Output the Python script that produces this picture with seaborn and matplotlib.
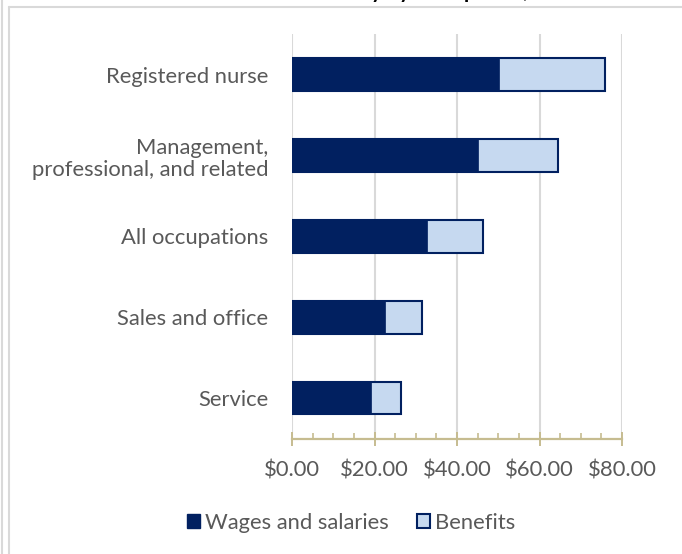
import matplotlib
matplotlib.use("Agg")
import matplotlib.pyplot as plt
import seaborn as sns
import pandas as pd
from matplotlib.patches import Patch
from matplotlib.lines import Line2D
from matplotlib.ticker import MultipleLocator, FuncFormatter

categories = ["Registered nurse", "Management,\nprofessional, and related",
              "All occupations", "Sales and office", "Service"]
wages = [50.2, 45.1, 32.7, 22.5, 19.1]
benefits = [25.7, 19.4, 13.6, 8.9, 7.3]
series_names = ["Wages and salaries", "Benefits"]

NAVY = "#012060"
LIGHT = "#C6D9F0"
GRID = "#D9D9D9"
AXIS = "#C6BC90"
TXT = "#595959"
FS = 15.8

sns.set_theme(style="white")
plt.rcParams["font.family"] = ["Lato", "DejaVu Sans"]

df = pd.DataFrame({"category": categories, "wages": wages, "benefits": benefits})
df["total"] = df["wages"] + df["benefits"]

fig = plt.figure(figsize=(6.82, 5.54), dpi=100)
ax = fig.add_axes([292 / 682, 1 - 438.7 / 554, 330 / 682, (438.7 - 34.2) / 554])

sns.barplot(data=df, y="category", x="total", orient="h", color=LIGHT,
            width=0.4, edgecolor=NAVY, linewidth=1.5, saturation=1, ax=ax, zorder=3)
sns.barplot(data=df, y="category", x="wages", orient="h", color=NAVY,
            width=0.4, edgecolor=NAVY, linewidth=0.5, saturation=1, ax=ax, zorder=4)

ax.set_xlim(0, 80)
ax.set_ylim(4.5, -0.5)
ax.set_xlabel("")
ax.set_ylabel("")
ax.xaxis.set_major_locator(MultipleLocator(20))
ax.xaxis.set_minor_locator(MultipleLocator(5))
ax.xaxis.set_major_formatter(FuncFormatter(lambda v, p: f"${v:.2f}"))
ax.grid(axis="x", which="major", color=GRID, linewidth=1.5, zorder=0)
ax.set_axisbelow(True)
for s in ["top", "right", "left"]:
    ax.spines[s].set_visible(False)
ax.spines["bottom"].set_color(AXIS)
ax.spines["bottom"].set_linewidth(1.6)
ax.spines["bottom"].set_zorder(5)
ax.tick_params(axis="x", which="both", bottom=True)
ax.tick_params(axis="x", which="major", direction="inout", length=10, width=1.4,
               color=AXIS, labelsize=FS, labelcolor=TXT, pad=11)
ax.tick_params(axis="x", which="minor", direction="in", length=4.5, width=1.2, color=AXIS)
ax.tick_params(axis="y", length=0, labelsize=FS, labelcolor=TXT, pad=17)
for lab in ax.get_yticklabels():
    lab.set_horizontalalignment("right")
    lab.set_multialignment("right")
    lab.set_linespacing(1.15)

handles = [Patch(facecolor=NAVY, edgecolor=NAVY, linewidth=1.0),
           Patch(facecolor=LIGHT, edgecolor=NAVY, linewidth=1.5)]
leg = fig.legend(handles, series_names, loc="center", bbox_to_anchor=(351 / 682, 1 - 523 / 554),
                 ncol=2, frameon=False, fontsize=FS, handlelength=0.6, handleheight=0.6,
                 handletextpad=0.2, columnspacing=1.3)
for t in leg.get_texts():
    t.set_color(TXT)

# chart border lines (Excel frame)
fig.add_artist(Line2D([1.5 / 682, 1.5 / 682], [0, 1], color=GRID, linewidth=1.5, transform=fig.transFigure))
fig.add_artist(Line2D([8.5 / 682, 8.5 / 682], [0, 1 - 7 / 554], color=GRID, linewidth=1.5, transform=fig.transFigure))
fig.add_artist(Line2D([8.5 / 682, 1], [1 - 7 / 554, 1 - 7 / 554], color=GRID, linewidth=1.5, transform=fig.transFigure))

# title, mostly cut off at top as in the reference
fig.text(395 / 682, 1 + 2.5 / 554, "Total Costs Hourly by Occupation, 2023", ha="center", va="baseline",
         fontsize=15, fontweight="bold", color="black")

fig.savefig("out.png", dpi=100)
